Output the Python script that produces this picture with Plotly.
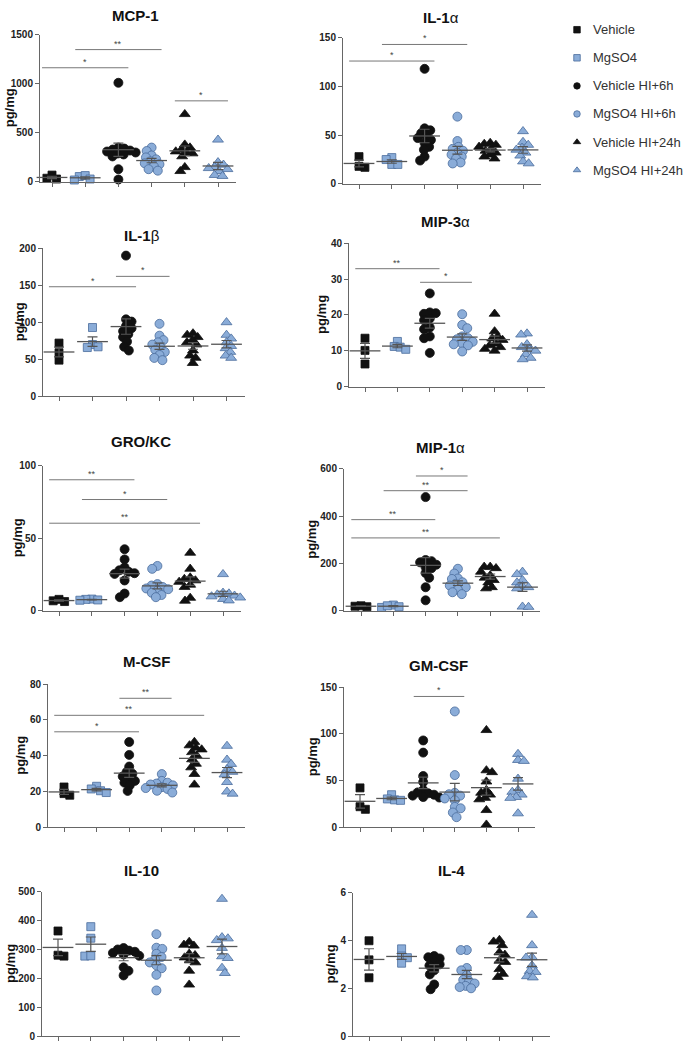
import numpy as np
import plotly.graph_objects as go

W, H = 685, 1047

groups = ["Vehicle", "MgSO4", "Vehicle HI+6h", "MgSO4 HI+6h", "Vehicle HI+24h", "MgSO4 HI+24h"]
BLACK = "#111111"
BLUE = "#8aacd8"
BLUE_EDGE = "#4a6c9c"
symbols = ["square", "square", "circle", "circle", "triangle-up", "triangle-up"]
fills = [BLACK, BLUE, BLACK, BLUE, BLACK, BLUE]
edges = [BLACK, BLUE_EDGE, BLACK, BLUE_EDGE, BLACK, BLUE_EDGE]
msizes = [8, 8, 9, 9, 9.5, 9.5]

# ---------------- data (pg/mg), one list per group ----------------
mcp1 = [
    [70, 30, 38],
    [55, 20, 65, 30],
    [1010, 350, 340, 330, 320, 310, 300, 290, 280, 260, 130, 25],
    [350, 315, 270, 250, 230, 210, 190, 180, 160, 130, 115],
    [690, 380, 350, 330, 310, 300, 290, 260, 150, 110],
    [430, 200, 175, 150, 140, 130, 110, 70, 60],
]
il1a = [
    [28, 17, 18],
    [27, 25, 20, 20],
    [118, 57, 55, 52, 49, 47, 45, 42, 38, 35, 28, 24],
    [69, 44, 38, 36, 34, 32, 30, 28, 26, 22, 21],
    [42, 41, 40, 38, 36, 34, 32, 30, 28, 26],
    [54, 43, 40, 37, 35, 32, 29, 23, 21],
]
il1b = [
    [72, 59, 49],
    [93, 70, 67, 66],
    [190, 104, 101, 95, 92, 88, 84, 80, 74, 67, 62],
    [98, 82, 76, 73, 70, 66, 63, 60, 56, 52, 49],
    [85, 83, 80, 76, 73, 70, 62, 55, 52, 45],
    [100, 83, 78, 73, 68, 65, 60, 55, 52],
]
mip3a = [
    [13.5, 10.1, 6.3],
    [12.6, 11.2, 11.0, 10.4],
    [26, 20.7, 20.5, 20.3, 19, 18.5, 16.5, 16, 14, 13.5, 9.4],
    [20.2, 17.2, 16.3, 14, 13.5, 13.2, 12.5, 12, 11.8, 11.5, 9.8],
    [20.3, 15.4, 14, 13.4, 13, 12, 11.5, 11, 10.5, 10],
    [14.8, 14.5, 11.8, 11, 10.3, 10, 9, 8, 7.6],
]
grokc = [
    [8, 6.5, 7],
    [8.2, 7.6, 8.0, 7.4],
    [42.5, 35.5, 30, 28, 27, 26, 25.5, 21, 12, 9.5],
    [31, 29, 18.5, 17.5, 16.5, 15.5, 15, 14, 12.5, 11, 9.5],
    [40, 29, 23, 22, 21, 20, 18, 16.5, 9, 7],
    [25.3, 12.5, 12, 11.3, 10.5, 10, 9.2, 8.2, 7.2],
]
mip1a = [
    [22, 18, 20],
    [25, 18, 15, 22],
    [480, 215, 210, 205, 195, 185, 180, 160, 140, 100, 45],
    [178, 158, 137, 135, 121, 114, 107, 100, 90, 79, 71],
    [186, 186, 180, 165, 150, 140, 130, 120, 100, 95],
    [165, 155, 130, 120, 105, 100, 95, 18, 17],
]
mcsf = [
    [22.6, 18.9, 18],
    [23, 21.5, 20.5, 19.5],
    [47.7, 40.5, 34, 31, 30, 28.5, 27, 26, 25, 23.5, 20.4],
    [29.8, 26, 25, 24.5, 24, 23.5, 22.5, 22, 21.5, 20.5, 19.5],
    [47.7, 45.8, 44.5, 43.5, 42, 40, 38, 35.5, 33.5, 29.8, 23.9],
    [45.5, 37.8, 35.4, 32.5, 31, 29.5, 25.3, 20, 18.8],
]
gmcsf = [
    [42.3, 22.2, 19.4],
    [35, 30.5, 29.5, 29],
    [93, 80, 55, 48.6, 40, 37.5, 36.5, 35, 34, 32.5, 32],
    [124, 56, 37, 35.5, 34, 31, 29, 22, 20.5, 16, 11],
    [104, 61, 59, 49, 40, 37, 35, 31.5, 30, 18.5, 3],
    [78.5, 72, 71, 52, 40, 38, 35, 32.5, 31.5, 15],
]
il10 = [
    [364, 277, 280],
    [379, 339, 277, 278],
    [305, 300, 296, 292, 288, 283, 278, 238, 226, 210],
    [353, 306, 302, 285, 274, 265, 255, 245, 235, 212, 158],
    [326, 316, 313, 285, 280, 272, 262, 255, 226, 178],
    [475, 342, 338, 332, 305, 276, 270, 236, 218],
]
il4 = [
    [3.99, 3.19, 2.44],
    [3.65, 3.35, 3.28, 3.05],
    [3.35, 3.3, 3.25, 3.1, 3.0, 2.95, 2.75, 2.58, 2.16, 1.96],
    [3.6, 3.6, 2.85, 2.75, 2.55, 2.35, 2.3, 2.2, 2.1, 2.05, 2.0],
    [4.02, 3.95, 3.8, 3.5, 3.4, 3.15, 3.1, 2.8, 2.6, 2.47],
    [5.07, 3.8, 3.3, 3.28, 2.95, 2.72, 2.68, 2.5, 2.45],
]

# significance brackets: (group i, group j, y value, label)
sig_mcp1 = [(0, 2, 1163, "*"), (1, 3, 1348, "**"), (4, 5, 826, "*")]
sig_il1a = [(0, 2, 126, "*"), (1, 3, 143, "*")]
sig_il1b = [(0, 2, 148, "*"), (2, 3, 162, "*")]
sig_mip3a = [(0, 2, 32.9, "**"), (2, 3, 29.1, "*")]
sig_grokc = [(0, 2, 90.3, "**"), (1, 3, 76.7, "*"), (0, 4, 60.4, "**")]
sig_mip1a = [(2, 3, 569, "*"), (1, 3, 507, "**"), (0, 2, 385, "**"), (0, 4, 308, "**")]
sig_mcsf = [(2, 3, 72.1, "**"), (0, 4, 62.6, "**"), (0, 2, 53.4, "*")]
sig_gmcsf = [(2, 3, 140, "*")]
sig_il10 = []
sig_il4 = []

titles = ["<b>MCP-1</b>", "<b>IL-1</b>α", "<b>IL-1</b>β", "<b>MIP-3</b>α", "<b>GRO/KC</b>",
          "<b>MIP-1</b>α", "<b>M-CSF</b>", "<b>GM-CSF</b>", "<b>IL-10</b>", "<b>IL-4</b>"]
datasets = [mcp1, il1a, il1b, mip3a, grokc, mip1a, mcsf, gmcsf, il10, il4]
sigs = [sig_mcp1, sig_il1a, sig_il1b, sig_mip3a, sig_grokc, sig_mip1a, sig_mcsf, sig_gmcsf, sig_il10, sig_il4]
ymaxs = [1500, 150, 200, 40, 100, 600, 80, 150, 500, 6]
dticks = [500, 50, 50, 10, 50, 200, 20, 50, 100, 2]

# ---------------- layout geometry (pixels) ----------------
# (axis left, first tick, tick spacing, axis top, axis bottom, title x, title y, ylabel x or None)
geom = [
    (40, 52, 33.2, 29, 178, 135, 10, 9),
    (343, 359, 32.8, 32, 180, 441, 12, None),
    (43, 59, 33.5, 245, 395, 142, 232, 19),
    (349, 365, 32.4, 240, 385, 445, 218, 322),
    (43, 59, 32.8, 465, 612, 141, 441, 17),
    (344, 361, 32.3, 468, 612, 440, 447, 312),
    (48, 64, 32.6, 686, 831, 147, 663, 21),
    (344, 360, 31.6, 689, 831, 439, 667, 312),
    (42, 58, 32.8, 896, 1042, 141, 875, 11),
    (353, 369, 32.6, 897, 1042, 451, 875, 330),
]
XEND = 5.55
AXC = "#666666"
FONT = "Liberation Sans, Arial"


def swarm(vals, ymax, h_px, d):
    ypx = np.asarray(vals, float) / ymax * h_px
    order = np.argsort(-ypx, kind="stable")
    xs = np.zeros(len(ypx))
    placed = []
    for n, k in enumerate(order):
        y = ypx[k]
        iv = []
        for (px, py) in placed:
            dy = abs(py - y)
            if dy < d:
                w = np.sqrt(d * d - dy * dy)
                iv.append((px - w, px + w))
        cands = [0.0] + [a for a, b in iv] + [b for a, b in iv]
        sgn = 1 if n % 2 == 0 else -1
        cands.sort(key=lambda c: (round(abs(c), 6), -sgn * c))
        for c in cands:
            if all(not (a + 1e-6 < c < b - 1e-6) for a, b in iv):
                xs[k] = c
                break
        placed.append((xs[k], y))
    return xs


fig = go.Figure()
shapes = []
annotations = []
layout = {}

for p, (data, sig, ymax, dt, g, title) in enumerate(zip(datasets, sigs, ymaxs, dticks, geom, titles)):
    ax_l, t0, sp, top, bot, tx, ty, lx = g
    k = p + 1
    xa = "x" if k == 1 else f"x{k}"
    ya = "y" if k == 1 else f"y{k}"
    xkey = "xaxis" if k == 1 else f"xaxis{k}"
    ykey = "yaxis" if k == 1 else f"yaxis{k}"
    hpx = bot - top
    x_end = t0 + XEND * sp
    layout[xkey] = dict(
        domain=[ax_l / W, x_end / W], range=[(ax_l - t0) / sp, XEND], anchor=ya,
        tickvals=list(range(6)), ticktext=[""] * 6, ticks="outside", ticklen=4,
        tickcolor=AXC, tickwidth=1, showline=True, linecolor=AXC, linewidth=1,
        showgrid=False, zeroline=False, fixedrange=True,
    )
    layout[ykey] = dict(
        domain=[(H - bot) / H, (H - top) / H], range=[0, ymax], anchor=xa,
        tickvals=list(np.arange(0, ymax + dt / 2, dt)), ticks="outside", ticklen=4,
        tickcolor=AXC, tickwidth=1, showline=True, linecolor=AXC, linewidth=1,
        showgrid=False, zeroline=False, fixedrange=True,
        tickfont=dict(family=FONT, size=10, color="#222", weight="bold"),
    )
    # points
    for gi in range(6):
        vals = data[gi]
        offs = swarm(vals, ymax, hpx, 6.0) / sp
        fig.add_trace(go.Scatter(
            x=gi + offs, y=vals, mode="markers", xaxis=xa, yaxis=ya,
            name=groups[gi], showlegend=False,
            marker=dict(symbol=symbols[gi], size=msizes[gi], color=fills[gi],
                        line=dict(color=edges[gi], width=0.8)),
            cliponaxis=False, hoverinfo="y",
        ))
    # mean +/- SEM
    means = [float(np.mean(v)) for v in data]
    sems = [float(np.std(v, ddof=1) / np.sqrt(len(v))) for v in data]
    fig.add_trace(go.Scatter(
        x=list(range(6)), y=means, mode="markers", xaxis=xa, yaxis=ya, showlegend=False,
        marker=dict(symbol="line-ew", size=22, color="#555", line=dict(color="#555", width=1.3)),
        error_y=dict(type="data", array=sems, width=5, thickness=1.2, color="#555"),
        cliponaxis=False, hoverinfo="skip",
    ))
    # significance bars
    for (i, j, yv, lab) in sig:
        shapes.append(dict(type="line", xref=xa, yref=ya, x0=i - 0.3, x1=j + 0.3, y0=yv, y1=yv,
                           line=dict(color="#777", width=1)))
        annotations.append(dict(xref=xa, yref=ya, x=(i + j) / 2, y=yv, text=lab, showarrow=False,
                                yanchor="bottom", yshift=-1,
                                font=dict(family=FONT, size=9, color="#444")))
    # title
    annotations.append(dict(xref="paper", yref="paper", x=tx / W, y=1 - ty / H, text=title,
                            showarrow=False, xanchor="center", yanchor="middle",
                            font=dict(family=FONT, size=15, color="#111")))
    if lx is not None:
        annotations.append(dict(xref="paper", yref="paper", x=lx / W, y=1 - (top + bot) / 2 / H,
                                text="<b>pg/mg</b>", textangle=-90, showarrow=False,
                                xanchor="center", yanchor="middle",
                                font=dict(family=FONT, size=13, color="#111")))

# ---------------- legend (own small axis) ----------------
LEG_TOP, LEG_STEP = 24, 28.4
leg_idx = list(range(6))
layout["xaxis11"] = dict(domain=[567 / W, 587 / W], range=[-0.5, 0.5], visible=False,
                         anchor="y11", fixedrange=True)
layout["yaxis11"] = dict(domain=[(H - (LEG_TOP + 5.5 * LEG_STEP)) / H, (H - (LEG_TOP - 0.5 * LEG_STEP)) / H],
                         range=[5.5, -0.5], visible=False, anchor="x11", fixedrange=True)
for gi in leg_idx:
    fig.add_trace(go.Scatter(
        x=[0], y=[gi], mode="markers", xaxis="x11", yaxis="y11", showlegend=False,
        marker=dict(symbol=symbols[gi], size=6.5, color=fills[gi], line=dict(color=edges[gi], width=0.8)),
        hoverinfo="skip",
    ))
    annotations.append(dict(xref="paper", yref="y11", x=591 / W, y=gi, text=groups[gi],
                            showarrow=False, xanchor="left", yanchor="middle",
                            font=dict(family=FONT, size=13, color="#333")))

fig.update_layout(
    width=W, height=H, margin=dict(l=0, r=0, t=0, b=0),
    plot_bgcolor="white", paper_bgcolor="white",
    shapes=shapes, annotations=annotations, showlegend=False,
    **layout,
)

fig.write_html(
    "out.html",
    config={"displayModeBar": False},
    post_script="document.body.style.margin='0';document.body.style.padding='0';"
                "document.body.style.overflow='hidden';",
)
